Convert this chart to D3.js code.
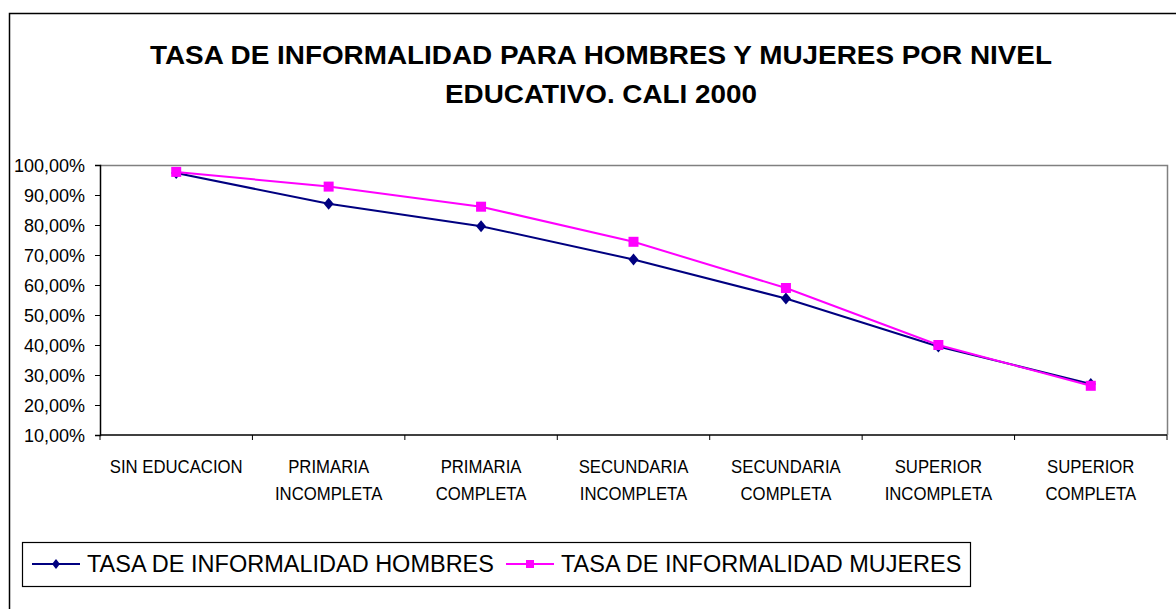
<!DOCTYPE html>
<html>
<head>
<meta charset="utf-8">
<script src="https://cdn.jsdelivr.net/npm/d3@7"></script>
<style>
  body { margin: 0; background: #fff; }
  text { font-family: Arial, "Liberation Sans", sans-serif; fill: #000; }
</style>
</head>
<body>
<svg id="chart" width="1176" height="609"></svg>
<script>
// Chart data
var titleLines = ["TASA DE INFORMALIDAD PARA HOMBRES Y MUJERES POR NIVEL", "EDUCATIVO. CALI 2000"];
var categories = ["SIN EDUCACION", "PRIMARIA INCOMPLETA", "PRIMARIA COMPLETA", "SECUNDARIA INCOMPLETA",
  "SECUNDARIA COMPLETA", "SUPERIOR INCOMPLETA", "SUPERIOR COMPLETA"];
var hombres = [0.973, 0.871, 0.796, 0.685, 0.555, 0.395, 0.270];
var mujeres = [0.977, 0.928, 0.861, 0.744, 0.590, 0.400, 0.264];
var seriesNames = ["TASA DE INFORMALIDAD HOMBRES", "TASA DE INFORMALIDAD MUJERES"];
var yTicks = [0.1, 0.2, 0.3, 0.4, 0.5, 0.6, 0.7, 0.8, 0.9, 1.0];

var svgWidth = 1176;
var svgHeight = 609;

// plot area
var plot = { left: 100, right: 1167, top: 165, bottom: 435 };

var svg = d3.select("#chart");

// outer chart border (runs off the right and bottom edge)
svg.append("rect")
  .attr("x", 9.5).attr("y", 13.5)
  .attr("width", svgWidth + 20).attr("height", svgHeight + 20)
  .attr("fill", "#fff")
  .attr("stroke", "#000")
  .attr("stroke-width", 1.5);

// title (condensed bold, like the original)
svg.selectAll(".title")
  .data(titleLines)
  .enter().append("text")
  .attr("class", "title")
  .attr("x", 601)
  .attr("y", (d, i) => 64 + i * 39)
  .attr("text-anchor", "middle")
  .style("font-size", "25px")
  .style("font-weight", "bold")
  .attr("textLength", (d, i) => i == 0 ? 902 : 312)
  .attr("lengthAdjust", "spacingAndGlyphs")
  .text(d => d);

var xScale = d3.scaleBand()
  .domain(categories)
  .range([plot.left, plot.right]);

var yScale = d3.scaleLinear()
  .domain([0.1, 1.0])
  .range([plot.bottom, plot.top]);

var locale = d3.formatLocale({ decimal: ",", thousands: ".", grouping: [3], currency: ["$", ""] });
var pct = locale.format(".2%");

// plot background + gray top/right border
svg.append("rect")
  .attr("x", plot.left).attr("y", plot.top)
  .attr("width", plot.right - plot.left).attr("height", plot.bottom - plot.top)
  .attr("fill", "#fff");

svg.append("path")
  .attr("d", `M${plot.left},${plot.top + 0.5}H${plot.right + 0.5}V${plot.bottom}`)
  .attr("fill", "none")
  .attr("stroke", "#808080")
  .attr("stroke-width", 1.5);

// y axis
var leftAxis = d3.axisLeft(yScale)
  .tickValues(yTicks)
  .tickFormat(pct)
  .tickSize(5)
  .tickPadding(10);

var yAxis = svg.append("g")
  .attr("transform", `translate(${plot.left}, 0)`)
  .call(leftAxis);
yAxis.select(".domain").attr("stroke", "#000").attr("stroke-width", 1.5);
yAxis.selectAll(".tick line").attr("stroke", "#000");
yAxis.selectAll(".tick text")
  .style("font-size", "18px")
  .attr("fill", "#000")
  .attr("dy", "0.35em");

// x axis: line + ticks at category boundaries
svg.append("line")
  .attr("x1", plot.left).attr("x2", plot.right)
  .attr("y1", plot.bottom).attr("y2", plot.bottom)
  .attr("stroke", "#000").attr("stroke-width", 1.5);

var bounds = categories.map(c => xScale(c)).concat([plot.right]);
svg.selectAll(".xtick")
  .data(bounds)
  .enter().append("line")
  .attr("class", "xtick")
  .attr("x1", d => d).attr("x2", d => d)
  .attr("y1", plot.bottom).attr("y2", plot.bottom + 5)
  .attr("stroke", "#000");

var cx = c => xScale(c) + xScale.bandwidth() / 2;

// category labels (first word on line 1, rest on line 2)
var catLabels = svg.selectAll(".cat")
  .data(categories)
  .enter().append("text")
  .attr("class", "cat")
  .attr("text-anchor", "middle")
  .style("font-size", "19px");

catLabels.each(function(c) {
  var lines = c == "SIN EDUCACION" ? [c] : c.split(" ");
  var t = d3.select(this);
  lines.forEach(function(line, i) {
    t.append("tspan")
      .attr("x", cx(c))
      .attr("y", 473 + i * 27)
      .text(line);
  });
});
// squeeze labels, like the original rendering
catLabels.selectAll("tspan").each(function() {
  var w = this.getComputedTextLength();
  d3.select(this).attr("textLength", w * 0.88).attr("lengthAdjust", "spacingAndGlyphs");
});

// lines
var drawLine = d3.line()
  .x((d, i) => cx(categories[i]))
  .y(d => yScale(d));

var navy = "#000080";
var pink = "#FF00FF";

svg.append("path")
  .attr("d", drawLine(hombres))
  .attr("fill", "none")
  .attr("stroke", navy)
  .attr("stroke-width", 2);

svg.selectAll(".dia")
  .data(hombres)
  .enter().append("path")
  .attr("class", "dia")
  .attr("transform", (d, i) => `translate(${cx(categories[i])}, ${yScale(d)})`)
  .attr("d", "M0,-6L5,0L0,6L-5,0Z")
  .attr("fill", navy);

svg.append("path")
  .attr("d", drawLine(mujeres))
  .attr("fill", "none")
  .attr("stroke", pink)
  .attr("stroke-width", 2);

svg.selectAll(".sq")
  .data(mujeres)
  .enter().append("rect")
  .attr("class", "sq")
  .attr("x", (d, i) => cx(categories[i]) - 5)
  .attr("y", d => yScale(d) - 5)
  .attr("width", 10).attr("height", 10)
  .attr("fill", pink);

// legend
svg.append("rect")
  .attr("x", 22.5).attr("y", 542.5)
  .attr("width", 948).attr("height", 44)
  .attr("fill", "#fff")
  .attr("stroke", "#000")
  .attr("stroke-width", 1.2);

var legendX = [32, 506];
var legendY = 564;

seriesNames.forEach(function(name, i) {
  var color = i == 0 ? navy : pink;
  var x0 = legendX[i];
  svg.append("line")
    .attr("x1", x0).attr("x2", x0 + 48)
    .attr("y1", legendY).attr("y2", legendY)
    .attr("stroke", color).attr("stroke-width", 2);
  if (i == 0) {
    svg.append("path")
      .attr("transform", `translate(${x0 + 24}, ${legendY})`)
      .attr("d", "M0,-5L4,0L0,5L-4,0Z")
      .attr("fill", color);
  } else {
    svg.append("rect")
      .attr("x", x0 + 20).attr("y", legendY - 4)
      .attr("width", 8).attr("height", 8)
      .attr("fill", color);
  }
  svg.append("text")
    .attr("x", x0 + 55)
    .attr("y", 572)
    .style("font-size", "23.5px")
    .text(name);
});
</script>
</body>
</html>
